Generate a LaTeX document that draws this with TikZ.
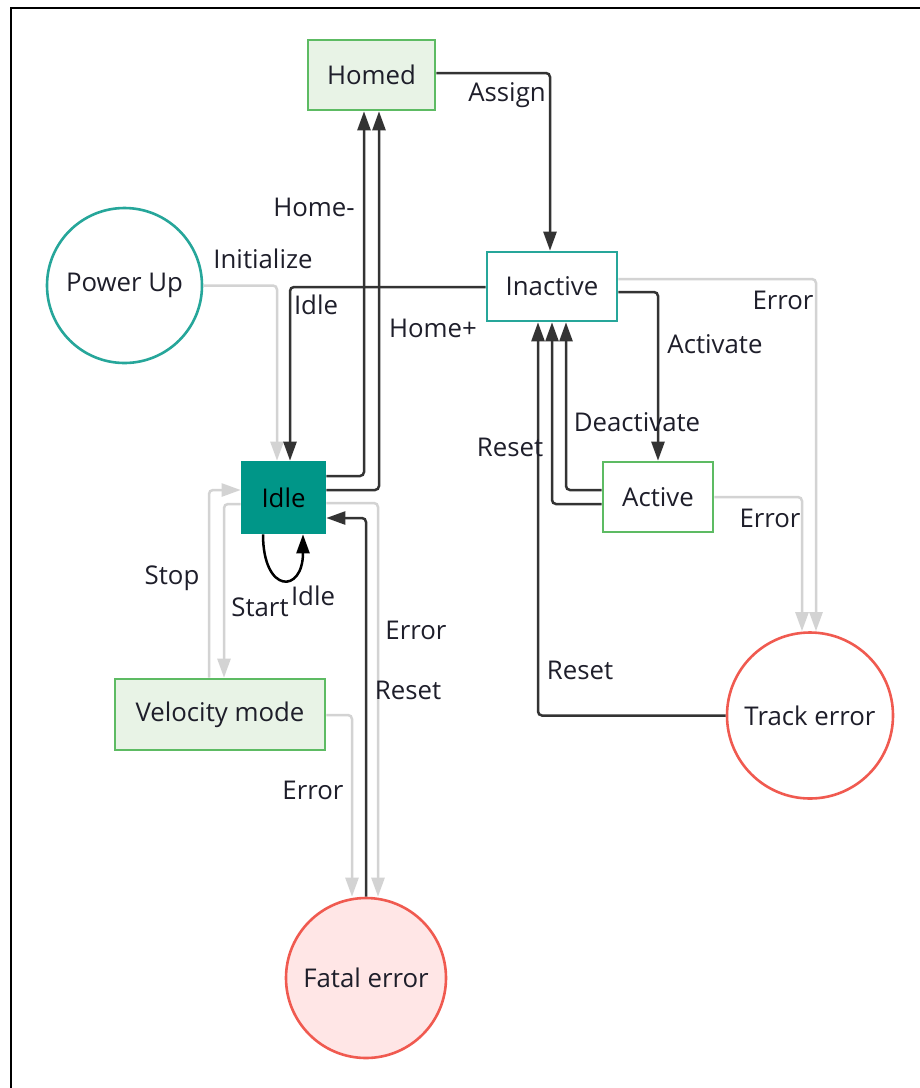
\documentclass[tikz,border=0pt]{standalone}
\usepackage{fontspec}
\setmainfont{Open Sans}
\usetikzlibrary{arrows.meta}
\definecolor{gfill}{HTML}{E8F3E6}
\definecolor{gdraw}{HTML}{5DBB63}
\definecolor{tealdraw}{HTML}{26A69A}
\definecolor{tealfill}{HTML}{009688}
\definecolor{rdraw}{HTML}{F05A50}
\definecolor{rfill}{HTML}{FFE6E6}
\definecolor{dline}{HTML}{333333}
\definecolor{lline}{HTML}{D3D3D3}
\definecolor{txt}{HTML}{1E1E2A}
\begin{document}
\begin{tikzpicture}[x=1pt,y=-1pt,
  font=\fontsize{25.8}{30}\selectfont,
  box/.style={rectangle,line width=2.6pt,inner sep=0pt,text=txt},
  greenbox/.style={box,draw=gdraw,fill=gfill},
  greenwhite/.style={box,draw=gdraw,fill=white},
  tealbox/.style={box,draw=tealdraw,fill=white},
  idlebox/.style={box,draw=tealfill,fill=tealfill,text=black},
  circ/.style={circle,line width=2.6pt,inner sep=0pt,text=txt},
  lbl/.style={inner sep=0pt,text=txt},
  dk/.style={draw=dline,line width=2.5pt,rounded corners=4pt,-{Triangle[length=19pt,width=13pt]}},
  lt/.style={draw=lline,line width=2.5pt,rounded corners=4pt,-{Triangle[length=19pt,width=13pt]}},
  dkc/.style={draw=black,line width=2.5pt,-{Triangle[length=19pt,width=13pt]}}]
\useasboundingbox (0,0) rectangle (920,1088);
% frame
\draw[line width=2.8pt,black] (11,1088) -- (11,8) -- (920,8);

% nodes
\node[greenbox,minimum width=127pt,minimum height=70pt] (homed) at (371.5,75) {Homed};
\node[tealbox,minimum width=130pt,minimum height=69pt] (inactive) at (552,286.5) {Inactive};
\node[greenwhite,minimum width=110pt,minimum height=70pt] (active) at (658,497) {Active};
\node[idlebox,minimum width=83pt,minimum height=71pt] (idle) at (283.5,497.5) {Idle};
\node[greenbox,minimum width=210pt,minimum height=71pt] (velocity) at (220,714.5) {Velocity mode};
\node[circ,draw=tealdraw,fill=white,minimum size=155pt] (power) at (124.5,285.5) {Power Up};
\node[circ,draw=rdraw,fill=rfill,minimum size=160pt] (fatal) at (366,978) {Fatal error};
\node[circ,draw=rdraw,fill=white,minimum size=166pt] (track) at (810,715.5) {Track error};

% light (error) connectors
\draw[lt] (power.east) -| (277,0 |- idle.north);
\draw[lt] (inactive.east |- 0,279) -| (816,0 |- track.north);
\draw[lt] (active.east) -| (802,0 |- track.north);
\draw[lt] (idle.west |- 0,504) -| (224,0 |- velocity.north);
\draw[lt] (209,0 |- velocity.north) |- (idle.west |- 0,490);
\draw[lt] (idle.east |- 0,503) -| (378,0 |- fatal.north);
\draw[lt] (velocity.east |- 0,715) -| (352,0 |- fatal.north);

% dark connectors
\draw[dk] (homed.east |- 0,73) -| (550,0 |- inactive.north);
\draw[dk] (idle.east |- 0,476) -| (364,0 |- homed.south);
\draw[dk] (idle.east |- 0,490) -| (379,0 |- homed.south);
\draw[dk] (inactive.west |- 0,287) -| (290,0 |- idle.north);
\draw[dk] (inactive.east |- 0,292) -| (active.north);
\draw[dk] (active.west |- 0,490) -| (566,0 |- inactive.south);
\draw[dk] (active.west |- 0,504) -| (552,0 |- inactive.south);
\draw[dk] (track.west) -| (538,0 |- inactive.south);
\draw[dk] (366,0 |- fatal.north) |- (idle.east |- 0,518);
\draw[dkc] (idle.south -| 263,0) .. controls (263,594) and (303,594) .. (idle.south -| 303,0);

% labels
\node[lbl] (l1) at (507,95) {Assign};
\node[lbl] (l2) at (314,207) {Home-};
\node[lbl] (l3) at (433,328) {Home+};
\node[lbl] (l4) at (263,259) {Initialize};
\node[lbl] (l5) at (316,305) {Idle};
\node[lbl] (l6) at (715,344) {Activate};
\node[lbl] (l7) at (783,300) {Error};
\node[lbl] (l8) at (637,422) {Deactivate};
\node[lbl] (l9) at (510,447) {Reset};
\node[lbl] (l10) at (770,518) {Error};
\node[lbl] (l11) at (580,670) {Reset};
\node[lbl] (l12) at (172,578) {Stop};
\node[lbl] (l13) at (260,607) {Start};
\node[lbl] (l14) at (313,596) {Idle};
\node[lbl] (l15) at (416,630) {Error};
\node[lbl] (l16) at (408,690) {Reset};
\node[lbl] (l17) at (313,790) {Error};
\end{tikzpicture}
\end{document}
